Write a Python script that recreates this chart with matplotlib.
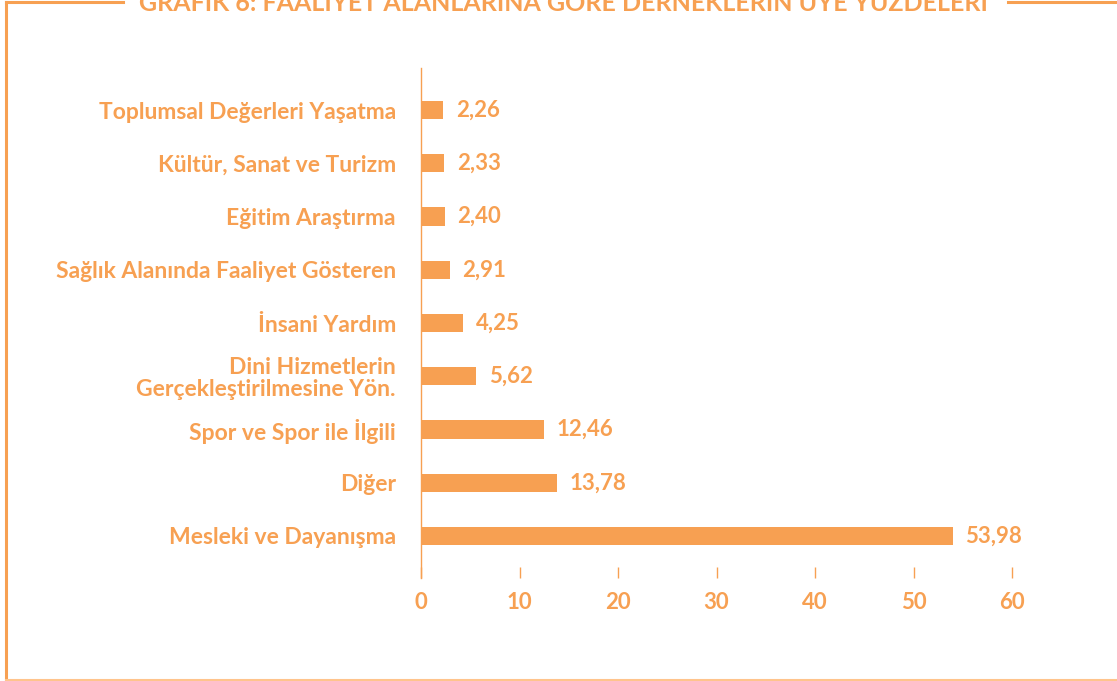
import matplotlib.pyplot as plt
from matplotlib.lines import Line2D

categories = ["Mesleki ve Dayanışma", "Diğer", "Spor ve Spor ile İlgili",
              "Dini Hizmetlerin\nGerçekleştirilmesine Yön.", "İnsani Yardım",
              "Sağlık Alanında Faaliyet Gösteren", "Eğitim Araştırma",
              "Kültür, Sanat ve Turizm", "Toplumsal Değerleri Yaşatma"]
values = [53.98, 13.78, 12.46, 5.62, 4.25, 2.91, 2.40, 2.33, 2.26]
value_labels = ["53,98", "13,78", "12,46", "5,62", "4,25", "2,91", "2,40", "2,33", "2,26"]
xticks = [0, 10, 20, 30, 40, 50, 60]

orange = "#F7A052"
plt.rcParams['font.family'] = ['Lato', 'DejaVu Sans']

fig = plt.figure(figsize=(11.17, 6.81), dpi=100)
ax = fig.add_axes([421/1117, 1-578/681, (1012-421)/1117, (578-68)/681])

y = list(range(len(categories)))
ax.barh(y, values, height=0.34, color=orange)
for yi, v, lab in zip(y, values, value_labels):
    ax.text(v + 1.3, yi, lab, va='center', ha='left', color=orange,
            fontsize=16, fontweight='bold')

ax.set_xlim(0, 60)
ax.set_ylim(-0.79, 8.79)
ax.set_yticks(y)
ax.set_yticklabels(categories, fontsize=16.5, fontweight='bold', color=orange,
                   linespacing=1.05)
ax.set_xticks(xticks)
ax.set_xticklabels([str(t) for t in xticks], fontsize=16, fontweight='bold', color=orange)
ax.tick_params(axis='y', length=0, pad=18)
ax.tick_params(axis='x', direction='in', length=8, width=1, color=orange, pad=10)
for s in ['top', 'right', 'bottom']:
    ax.spines[s].set_visible(False)
ax.spines['left'].set_color(orange)
ax.spines['left'].set_linewidth(1)

# frame around the chart
fig.add_artist(Line2D([6/1117, 6/1117], [0, 1-2/681], color=orange, lw=2.2,
                      transform=fig.transFigure))
fig.add_artist(Line2D([6/1117, 123/1117], [1-2/681, 1-2/681], color=orange, lw=2.2,
                      transform=fig.transFigure))
fig.add_artist(Line2D([1008/1117, 1], [1-2/681, 1-2/681], color=orange, lw=2.2,
                      transform=fig.transFigure))
fig.add_artist(Line2D([6/1117, 1], [1/681, 1/681], color="#FFC48C", lw=1.5,
                      transform=fig.transFigure))
fig.text(563/1117, 1-11/681, "GRAFİK 6: FAALİYET ALANLARINA GÖRE DERNEKLERİN ÜYE YÜZDELERİ",
         ha='center', va='baseline', color=orange, fontsize=18, fontweight='bold')

fig.savefig("out.png", dpi=100)
